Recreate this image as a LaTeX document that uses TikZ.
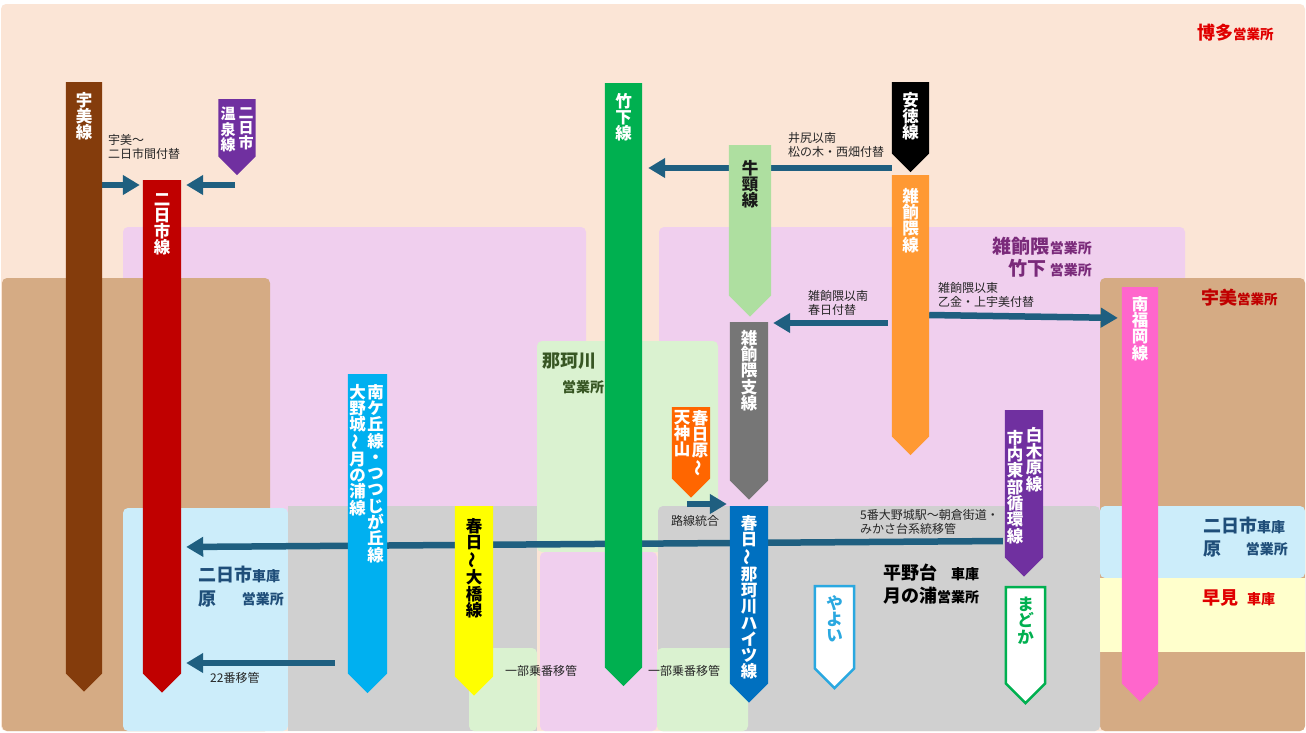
\documentclass[tikz,border=0pt]{standalone}
\usepackage{fontspec}
\setmainfont{Noto Sans CJK JP}
\usetikzlibrary{arrows.meta,calc,positioning}

\definecolor{hakatabg}{HTML}{FBE5D6}
\definecolor{zasshobg}{HTML}{F0CFEE}
\definecolor{umibg}{HTML}{D5AB84}
\definecolor{harubg}{HTML}{CCEDFA}
\definecolor{hiranobg}{HTML}{D0D0D0}
\definecolor{nakabg}{HTML}{DAF2D0}
\definecolor{hayamibg}{HTML}{FFFFCC}
\definecolor{movecol}{HTML}{1F5F80}
\definecolor{umicol}{HTML}{843C0C}
\definecolor{futsucol}{HTML}{C00000}
\definecolor{onsencol}{HTML}{7030A0}
\definecolor{takecol}{HTML}{00B050}
\definecolor{ushicol}{HTML}{AEDFA0}
\definecolor{zasshocol}{HTML}{FF9933}
\definecolor{shisencol}{HTML}{767676}
\definecolor{tenjincol}{HTML}{FF6600}
\definecolor{haitsucol}{HTML}{0070C0}
\definecolor{minamicol}{HTML}{00B0F0}
\definecolor{ohashicol}{HTML}{FFFF00}
\definecolor{nanpukucol}{HTML}{FF66CC}
\definecolor{yayoicol}{HTML}{2AA8E0}
\definecolor{hakatared}{HTML}{E00000}
\definecolor{zasshotxt}{HTML}{7A2A7A}
\definecolor{nakatxt}{HTML}{375623}
\definecolor{harutxt}{HTML}{1F4E79}

\newcommand{\wave}{\rotatebox[origin=c]{90}{～}}

\begin{document}
\begin{tikzpicture}[x=1pt,y=-1pt,>={Triangle[length=17pt,width=19pt]},
  zone/.style={rounded corners=5pt},
  routebar/.style={rectangle,inner sep=0pt,minimum width=37pt,
    minimum height=#1,anchor=north},
  bartext/.style={inner sep=0pt,align=center,text=white,
    font=\bfseries\fontsize{16.5}{16.3}\selectfont},
  transfer/.style={->,movecol,line width=6.5pt},
  note/.style={inner sep=0pt,align=left,anchor=west,text=black!85,
    font=\fontsize{12}{14.5}\selectfont},
  office/.style={inner sep=0pt,anchor=west,font=\bfseries}]

  \useasboundingbox (0,0) rectangle (1306,732);
  \fill[white] (0,0) rectangle (1306,732);

  % areas
  \fill[hakatabg,zone] (1,4) rectangle (1305,731);
  \fill[zasshobg,zone] (123,227) rectangle (586,515);
  \fill[zasshobg,zone] (659,227) rectangle (1185,515);
  \fill[umibg,zone] (2,278) rectangle (270,731);
  \fill[umibg,zone] (1100,278) rectangle (1305,731);
  \fill[harubg,zone] (123,508) rectangle (288,731);
  \fill[hiranobg] (288,506) rectangle (537,731);
  \fill[nakabg,zone] (537,341) rectangle (718,552);
  \fill[hiranobg,zone] (658,506) rectangle (1100,731);
  \fill[zasshobg,zone] (540,552) rectangle (657,731);
  \fill[nakabg,zone] (469,648) rectangle (537,731);
  \fill[nakabg,zone] (657,648) rectangle (748,731);
  \fill[harubg,zone] (1100,506) rectangle (1305,578);
  \fill[hayamibg] (1100,578) rectangle (1305,652);

  % routes
  \node[routebar=591,minimum width=36pt] (umi) at (84,82) {};
  \node[routebar=493,minimum width=38pt] (futsu) at (162,180) {};
  \node[routebar=57] (onsen) at (237,99) {};
  \node[routebar=584] (takeshita) at (623.5,83) {};
  \node[routebar=150,minimum width=42pt] (ushikubi) at (750,145) {};
  \node[routebar=71] (antoku) at (910.5,82) {};
  \node[routebar=261] (zassho) at (910.5,175) {};
  \node[routebar=158,minimum width=38pt] (shisen) at (749,322) {};
  \node[routebar=71,minimum width=38pt] (tenjin) at (691,407) {};
  \node[routebar=177,minimum width=38pt] (haitsu) at (749,506) {};
  \node[routebar=299,minimum width=39pt] (minami) at (367.5,374) {};
  \node[routebar=170,minimum width=38pt] (ohashi) at (474,506) {};
  \node[routebar=82,minimum width=39pt] (yayoi) at (834.5,586) {};
  \node[routebar=147,minimum width=38pt] (shiraki) at (1024,410) {};
  \node[routebar=96,minimum width=39pt] (madoka) at (1025.5,587) {};
  \node[routebar=396,minimum width=36pt] (nanpuku) at (1140,287) {};

  % transfers
  \draw[transfer,shorten >=3pt] (umi.east |- 0,185) -- (futsu.west |- 0,185);
  \draw[transfer,shorten >=5pt,shorten <=2pt] (onsen.center |- 0,185) -- (futsu.east |- 0,185);
  \draw[transfer,shorten >=6pt] (antoku.west |- 0,168) -- (takeshita.east |- 0,168);
  \draw[transfer,shorten >=5pt,shorten <=4pt] (zassho.west |- 0,323) -- (shisen.east |- 0,323);
  \draw[transfer,shorten >=4pt] (zassho.east |- 0,315) -- (nanpuku.west |- 0,318);
  \draw[transfer,shorten >=3pt,shorten <=15pt] (tenjin.west |- 0,504) -- (haitsu.west |- 0,504);
  \draw[transfer,shorten >=5pt,shorten <=2pt] (shiraki.west |- 0,541) -- (futsu.east |- 0,547);
  \draw[transfer,shorten >=5pt,shorten <=13pt] (minami.west |- 0,663) -- (futsu.east |- 0,663);

  \foreach \n/\c in {umi/umicol,futsu/futsucol,onsen/onsencol,takeshita/takecol,
      ushikubi/ushicol,antoku/black,zassho/zasshocol,shisen/shisencol,
      tenjin/tenjincol,haitsu/haitsucol,minami/minamicol,ohashi/ohashicol,
      shiraki/onsencol,nanpuku/nanpukucol}
    \fill[\c] (\n.north west) -- (\n.south west)
      -- ($(\n.south west)!0.7071!-45:(\n.south east)$)
      -- (\n.south east) -- (\n.north east) -- cycle;
  \foreach \n/\c in {yayoi/yayoicol,madoka/takecol}
    \draw[\c,fill=white,line width=2.5pt] (\n.north west) -- (\n.south west)
      -- ($(\n.south west)!0.7071!-45:(\n.south east)$)
      -- (\n.south east) -- (\n.north east) -- cycle;

  % route names
  \node[bartext,below=10pt of umi.north] (umi-t) {宇\\美\\線};
  \node[bartext,below=13pt of futsu.north] (futsu-t) {二\\日\\市\\線};
  \node[bartext,font=\bfseries\fontsize{15}{15.3}\selectfont,below=8pt of onsen.north,xshift=9pt] (onsen-t1) {二\\日\\市};
  \node[bartext,font=\bfseries\fontsize{15}{15.3}\selectfont,below=8pt of onsen.north,xshift=-9pt] (onsen-t2) {温\\泉\\線};
  \node[bartext,below=10pt of takeshita.north] (takeshita-t) {竹\\下\\線};
  \node[bartext,text=black!90,below=15pt of ushikubi.north] (ushikubi-t) {牛\\頸\\線};
  \node[bartext,below=10pt of antoku.north] (antoku-t) {安\\徳\\線};
  \node[bartext,below=13pt of zassho.north] (zassho-t) {雑\\餉\\隈\\線};
  \node[bartext,below=8pt of shisen.north] (shisen-t) {雑\\餉\\隈\\支\\線};
  \node[bartext,below=3pt of tenjin.north,xshift=9pt] (tenjin-t1) {春\\日\\原\\\wave};
  \node[bartext,below=3pt of tenjin.north,xshift=-9pt] (tenjin-t2) {天\\神\\山};
  \node[bartext,below=9pt of haitsu.north] (haitsu-t) {春\\日\\\wave\\那\\珂\\川\\ハ\\イ\\ツ\\線};
  \node[bartext,below=10pt of minami.north,xshift=8pt] (minami-t1)
    {南\\ケ\\丘\\線\\・\\つ\\つ\\じ\\が\\丘\\線};
  \node[bartext,below=10pt of minami.north,xshift=-10pt] (minami-t2)
    {大\\野\\城\\\wave\\月\\の\\浦\\線};
  \node[bartext,text=black,below=12pt of ohashi.north] (ohashi-t) {春\\日\\\wave\\大\\橋\\線};
  \node[bartext,text=yayoicol,below=9pt of yayoi.north] (yayoi-t) {や\\よ\\い};
  \node[bartext,below=17pt of shiraki.north,xshift=10pt] (shiraki-t1) {白\\木\\原\\線};
  \node[bartext,below=20pt of shiraki.north,xshift=-9pt] (shiraki-t2) {市\\内\\東\\部\\循\\環\\線};
  \node[bartext,text=takecol,below=10pt of madoka.north] (madoka-t) {ま\\ど\\か};
  \node[bartext,below=9pt of nanpuku.north] (nanpuku-t) {南\\福\\岡\\線};

  % notes
  \node[note] (n-umi) at (108,147) {宇美～\\二日市間付替};
  \node[note] (n-ijiri) at (788,145) {井尻以南\\松の木・西畑付替};
  \node[note] (n-kasuga) at (808,303) {雑餉隈以南\\春日付替};
  \node[note] (n-otogana) at (938,295) {雑餉隈以東\\乙金・上宇美付替};
  \node[note] (n-rosen) at (671,521) {路線統合};
  \node[note] (n-five) at (860,522) {5番大野城駅～朝倉街道・\\みかさ台系統移管};
  \node[note] (n-part1) at (505,671) {一部乗番移管};
  \node[note] (n-part2) at (648,671) {一部乗番移管};
  \node[note] (n-22) at (210,678) {22番移管};

  % offices
  \node[office,text=hakatared] (hakata) at (1197,33)
    {{\fontsize{18}{18}\selectfont 博多}{\fontsize{13.5}{13.5}\selectfont 営業所}};
  \node[office,anchor=east,text=zasshotxt] (zassho-o) at (1092,246)
    {{\fontsize{19}{19}\selectfont 雑餉隈}{\fontsize{14}{14}\selectfont 営業所}};
  \node[office,anchor=east,text=zasshotxt] (takeshita-o) at (1092,268)
    {{\fontsize{19}{19}\selectfont 竹下}\hspace{3pt}{\fontsize{14}{14}\selectfont 営業所}};
  \node[office,text=futsucol] (umi-o) at (1201,298)
    {{\fontsize{18}{18}\selectfont 宇美}{\fontsize{13.5}{13.5}\selectfont 営業所}};
  \node[office,text=nakatxt,font=\bfseries\fontsize{18}{18}\selectfont] (naka-o) at (542,361) {那珂川};
  \node[office,text=nakatxt,font=\bfseries\fontsize{14}{14}\selectfont] (naka-o2) at (562,387) {営業所};
  \node[office,text=harutxt] (futsu-o) at (198,575)
    {{\fontsize{18}{18}\selectfont 二日市}{\fontsize{14}{14}\selectfont 車庫}};
  \node[office,text=harutxt,font=\bfseries\fontsize{18}{18}\selectfont] (haru-o) at (198,599) {原};
  \node[office,anchor=east,text=harutxt,font=\bfseries\fontsize{14}{14}\selectfont] (haru-o2) at (284,599) {営業所};
  \node[office,text=harutxt] (futsu-o3) at (1203,526)
    {{\fontsize{18}{18}\selectfont 二日市}{\fontsize{14}{14}\selectfont 車庫}};
  \node[office,text=harutxt,font=\bfseries\fontsize{18}{18}\selectfont] (haru-o3) at (1203,549) {原};
  \node[office,anchor=east,text=harutxt,font=\bfseries\fontsize{14}{14}\selectfont] (haru-o4) at (1288,549) {営業所};
  \node[office,text=hakatared] (hayami-o) at (1202,598)
    {{\fontsize{18}{18}\selectfont 早見}\hspace{9pt}{\fontsize{14}{14}\selectfont 車庫}};
  \node[office,text=black] (hirano-o) at (883,573)
    {{\fontsize{18}{18}\selectfont 平野台}\hspace{14pt}{\fontsize{14}{14}\selectfont 車庫}};
  \node[office,text=black] (tsukinoura-o) at (883,596)
    {{\fontsize{18}{18}\selectfont 月の浦}{\fontsize{14}{14}\selectfont 営業所}};
\end{tikzpicture}
\end{document}
